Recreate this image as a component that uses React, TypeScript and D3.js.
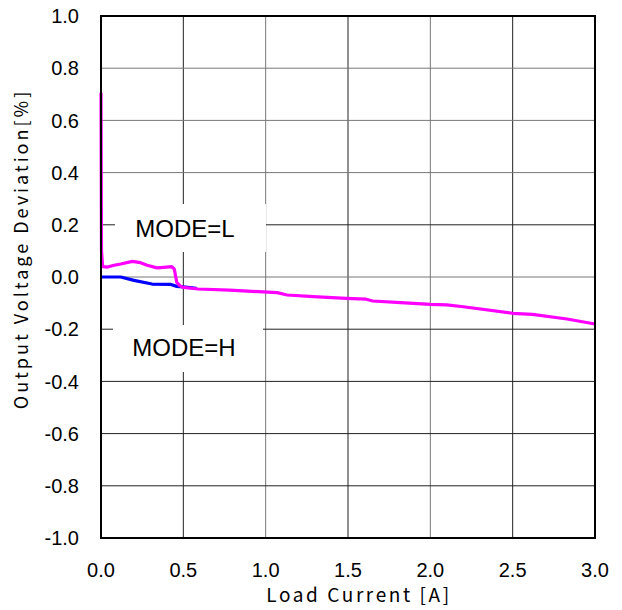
import React from "react";
import * as d3 from "d3";

const xTicks = [0, 0.5, 1.0, 1.5, 2.0, 2.5, 3.0];
const yTicks = [1.0, 0.8, 0.6, 0.4, 0.2, 0.0, -0.2, -0.4, -0.6, -0.8, -1.0];

// MODE=L (magenta) light-load section
const modeLCurrent = [0, 0.003, 0.01, 0.04, 0.08, 0.12, 0.19, 0.24, 0.28, 0.34, 0.38, 0.43, 0.445, 0.46, 0.48];
const modeLDeviation = [0.706, 0.1, 0.04, 0.038, 0.045, 0.05, 0.06, 0.055, 0.045, 0.035, 0.037, 0.04, 0.03, -0.02, -0.034];

// MODE=H (blue) light-load section
const modeHCurrent = [0, 0.12, 0.2, 0.31, 0.42, 0.46, 0.5, 0.58];
const modeHDeviation = [0, 0, -0.013, -0.027, -0.028, -0.036, -0.038, -0.043];

// shared heavy-load section
const tailCurrent = [0.5, 0.59, 0.78, 0.89, 1.07, 1.13, 1.29, 1.49, 1.61, 1.65, 1.82, 2.0, 2.1, 2.2, 2.5, 2.62, 2.83, 3.0];
const tailDeviation = [-0.04, -0.046, -0.05, -0.054, -0.06, -0.069, -0.075, -0.082, -0.085, -0.092, -0.098, -0.105, -0.107, -0.114, -0.139, -0.143, -0.161, -0.18];

const labels = ["MODE=L", "MODE=H"];

export default function App() {
  const W = 622, H = 610;
  const left = 101, right = 595, top = 16, bottom = 538;
  const x = d3.scaleLinear().domain([0, 3]).range([left, right]);
  const y = d3.scaleLinear().domain([-1, 1]).range([bottom, top]);

  const toPts = (xs: number[], ys: number[]) => xs.map((v, i) => [v, ys[i]] as [number, number]);
  const ptsL = toPts(modeLCurrent, modeLDeviation).concat(toPts(tailCurrent, tailDeviation));
  const ptsH = toPts(modeHCurrent, modeHDeviation);
  const line = d3.line<[number, number]>().x(d => x(d[0])).y(d => y(d[1]));

  const tickFont = "'Liberation Sans', Arial, sans-serif";
  const titleFont = "'Noto Sans CJK JP', 'Liberation Sans', sans-serif";

  return (
    <svg width={W} height={H} style={{ position: "absolute", left: 0, top: 0, background: "#fff" }}>
      {/* grid */}
      {xTicks.slice(1, -1).map(t => (
        <line key={"gx" + t} x1={x(t)} x2={x(t)} y1={top} y2={bottom}
          stroke={t === 1 || t === 2 ? "#777" : "#222"} strokeWidth={1} />
      ))}
      {yTicks.slice(1, -1).map(t => (
        <line key={"gy" + t} x1={left} x2={right} y1={y(t)} y2={y(t)}
          stroke={t > -0.1 && t !== 0.2 ? "#777" : "#222"} strokeWidth={1} />
      ))}
      {/* label boxes */}
      <rect x={115} y={204} width={151} height={48} fill="#fff" />
      <rect x={113} y={325} width={150} height={47} fill="#fff" />
      <text x={185} y={237} fontFamily={tickFont} fontSize={24} textAnchor="middle" fill="#000">{labels[0]}</text>
      <text x={184} y={356} fontFamily={tickFont} fontSize={24} textAnchor="middle" fill="#000">{labels[1]}</text>
      {/* curves */}
      <path d={line(ptsH) || ""} fill="none" stroke="#0000ff" strokeWidth={3.2} strokeLinejoin="round" />
      <path d={line(ptsL) || ""} fill="none" stroke="#ff00ff" strokeWidth={3.2} strokeLinejoin="round" />
      {/* frame */}
      <rect x={left} y={top} width={right - left} height={bottom - top} fill="none" stroke="#000" strokeWidth={2} />
      {/* tick labels */}
      {yTicks.map(t => (
        <text key={"ty" + t} x={79} y={y(t)} dy="0.36em" textAnchor="end" fontFamily={tickFont} fontSize={20} fill="#000">
          {t.toFixed(1)}
        </text>
      ))}
      {xTicks.map(t => (
        <text key={"tx" + t} x={x(t)} y={577} textAnchor="middle" fontFamily={tickFont} fontSize={20} fill="#000">
          {t.toFixed(1)}
        </text>
      ))}
      <text x={359} y={602} textAnchor="middle" fontFamily={titleFont} fontSize={19} letterSpacing={2.6} fill="#000">Load Current [A]</text>
      <text transform="translate(28,249) rotate(-90)" textAnchor="middle" fontFamily={titleFont} fontSize={18} letterSpacing={3.0} fill="#000">Output Voltage Deviation[%]</text>
    </svg>
  );
}
